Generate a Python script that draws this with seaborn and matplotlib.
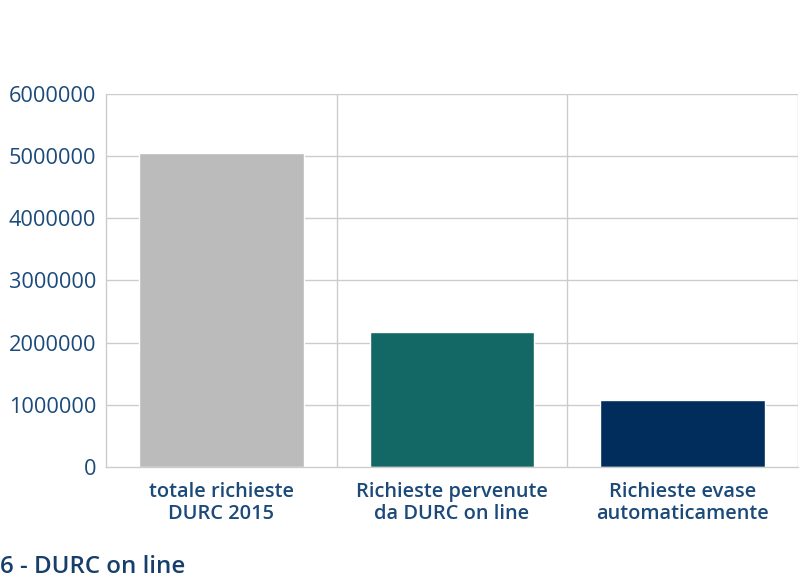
import pandas as pd
import matplotlib.pyplot as plt
import seaborn as sns

# chart data
categories = ["totale richieste\nDURC 2015", "Richieste pervenute\nda DURC on line", "Richieste evase\nautomaticamente"]
values = [5050000, 2170000, 1070000]
bar_colors = ["#BBBBBB", "#136866", "#002D5C"]
y_ticks = [0, 1000000, 2000000, 3000000, 4000000, 5000000, 6000000]
title = "6 - DURC on line"

text_color = "#1B4A7A"
grid_color = "#CCCCCC"

sns.set_theme(style="white")
plt.rcParams["font.family"] = ["Open Sans", "DejaVu Sans"]

df = pd.DataFrame({"categoria": categories, "valore": values})

fig = plt.figure(figsize=(8, 5.8), dpi=100)
ax = fig.add_axes([0.1325, 0.195, 0.865, 0.643])

sns.barplot(data=df, x="categoria", y="valore", hue="categoria",
            palette=bar_colors, width=0.714, saturation=1, legend=False, ax=ax)

ax.set_ylim(0, 6000000)
ax.set_xlim(-0.5, 2.5)
ax.set_yticks(y_ticks)
ax.set_yticklabels([str(v) for v in y_ticks])
ax.set_xlabel("")
ax.set_ylabel("")

# grid: horizontal at ticks, vertical at category boundaries
for v in y_ticks[1:]:
    ax.axhline(v, color=grid_color, lw=1, zorder=0)
for xb in [0.5, 1.5, 2.5]:
    ax.axvline(xb, color=grid_color, lw=1, zorder=0)

for s in ["top", "right"]:
    ax.spines[s].set_visible(False)
for s in ["left", "bottom"]:
    ax.spines[s].set_color(grid_color)
    ax.spines[s].set_linewidth(1)

ax.tick_params(axis="y", labelsize=15.7, colors=text_color, length=0, pad=7)
ax.tick_params(axis="x", labelsize=14.4, colors=text_color, length=0, pad=11)
for lbl in ax.get_xticklabels():
    lbl.set_fontweight("semibold")
    lbl.set_linespacing(1.15)

fig.text(0.0, 0.012, title, fontsize=17.3, fontweight="semibold", color="#163F6B",
         ha="left", va="baseline")

fig.savefig("out.png", dpi=100)
